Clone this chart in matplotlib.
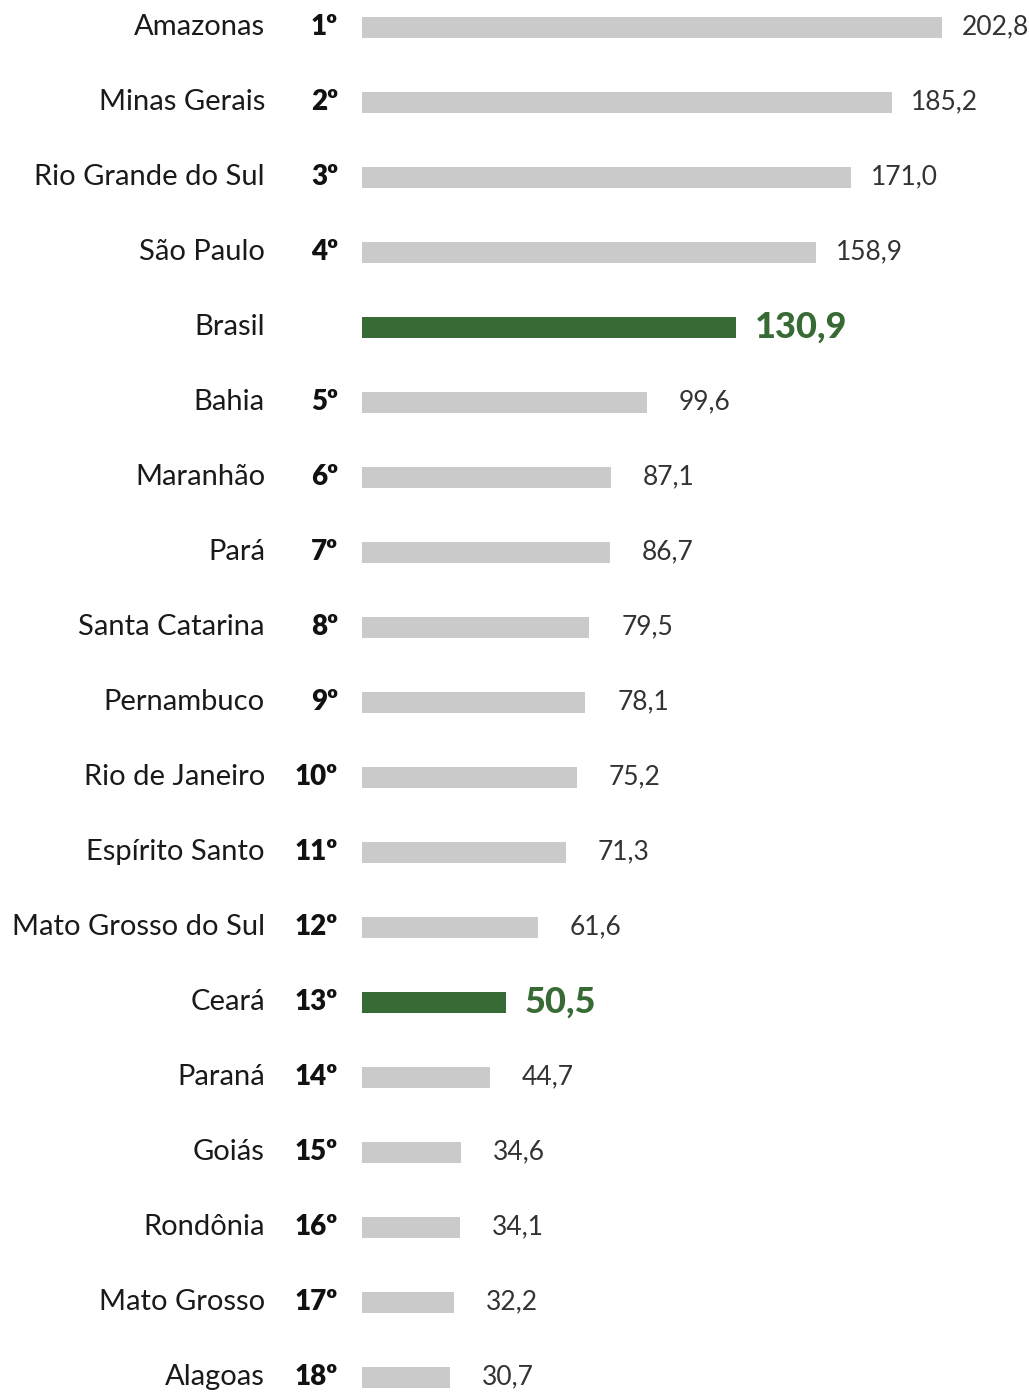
import matplotlib.pyplot as plt
import matplotlib.transforms as mtransforms

# Estados e valores
estados = ['Amazonas', 'Minas Gerais', 'Rio Grande do Sul', 'São Paulo', 'Brasil',
           'Bahia', 'Maranhão', 'Pará', 'Santa Catarina', 'Pernambuco',
           'Rio de Janeiro', 'Espírito Santo', 'Mato Grosso do Sul', 'Ceará',
           'Paraná', 'Goiás', 'Rondônia', 'Mato Grosso', 'Alagoas']
posicoes = ['1º', '2º', '3º', '4º', '', '5º', '6º', '7º', '8º', '9º',
            '10º', '11º', '12º', '13º', '14º', '15º', '16º', '17º', '18º']
valores = [202.8, 185.2, 171.0, 158.9, 130.9, 99.6, 87.1, 86.7, 79.5, 78.1,
           75.2, 71.3, 61.6, 50.5, 44.7, 34.6, 34.1, 32.2, 30.7]
destaques = ['Brasil', 'Ceará']

CINZA = '#cacaca'
VERDE = '#386a35'

W, H = 1029, 1392
fig = plt.figure(figsize=(W / 100, H / 100), dpi=100)
ax = fig.add_axes([362 / W, 0, 1 - 362 / W, 1])
ax.set_xlim(0, 667 / 580 * 202.8)
ax.set_ylim((H - 27) / 75, -27 / 75)
ax.axis('off')

y = list(range(len(estados)))
cores = [VERDE if e in destaques else CINZA for e in estados]
ax.barh(y, valores, height=0.28, color=cores)

trans = mtransforms.blended_transform_factory(fig.transFigure, ax.transData)
for i, (estado, pos, v) in enumerate(zip(estados, posicoes, valores)):
    ax.text(265 / W, i, estado, transform=trans, ha='right', va='center',
            fontsize=21, family='Lato', color='#1a1a1a')
    ax.text(338 / W, i, pos, transform=trans, ha='right', va='center',
            fontsize=20, family='Lato', weight='heavy', color='#111111')
    rotulo = f'{v:.1f}'.replace('.', ',')
    if estado in destaques:
        ax.annotate(rotulo, (v, i), xytext=(13, 0), textcoords='offset points',
                    ha='left', va='center', fontsize=26, family='Lato',
                    weight='black', color=VERDE)
    else:
        # valores de dois dígitos ficam alinhados como se tivessem três
        dx = 14 if v >= 100 else 23
        ax.annotate(rotulo, (v, i), xytext=(dx, 0), textcoords='offset points',
                    ha='left', va='center', fontsize=19, family='Lato',
                    weight='normal', color='#333333')

fig.savefig('out.png', dpi=100, facecolor='white')
